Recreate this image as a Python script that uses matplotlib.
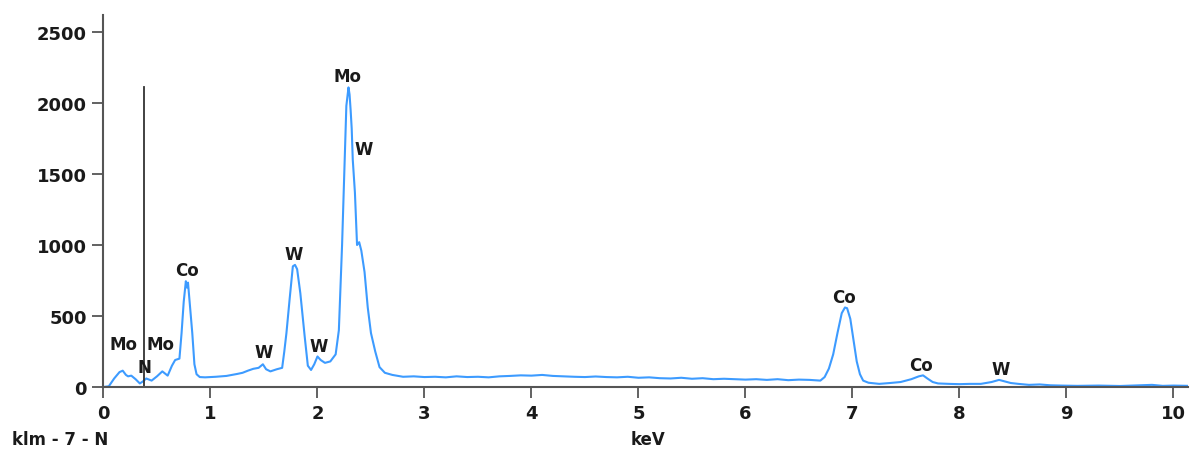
import numpy as np
import matplotlib.pyplot as plt

# spectrum (keV, counts)
kev = [0.00, 0.05, 0.10, 0.15, 0.18, 0.21, 0.23, 0.26, 0.30, 0.34, 0.37, 0.40, 0.45,
       0.50, 0.55, 0.60, 0.64, 0.67, 0.71, 0.73, 0.75, 0.77, 0.78, 0.79, 0.81, 0.83,
       0.85, 0.87, 0.90, 0.95, 1.00, 1.05, 1.10, 1.15, 1.20, 1.25, 1.30, 1.35, 1.40,
       1.45, 1.49, 1.52, 1.56, 1.62, 1.67, 1.69, 1.71, 1.74, 1.77, 1.79, 1.81, 1.84,
       1.88, 1.91, 1.94, 1.97, 2.00, 2.03, 2.07, 2.12, 2.17, 2.20, 2.23, 2.25, 2.27,
       2.29, 2.30, 2.31, 2.32, 2.33, 2.35, 2.37, 2.39, 2.41, 2.44, 2.47, 2.50, 2.54,
       2.58, 2.63, 2.70, 2.80, 2.90, 3.00, 3.10, 3.20, 3.30, 3.40, 3.50, 3.60, 3.70,
       3.80, 3.90, 4.00, 4.10, 4.20, 4.30, 4.40, 4.50, 4.60, 4.70, 4.80, 4.90, 5.00,
       5.10, 5.20, 5.30, 5.40, 5.50, 5.60, 5.70, 5.80, 5.90, 6.00, 6.10, 6.20, 6.30,
       6.40, 6.50, 6.60, 6.70, 6.74, 6.78, 6.82, 6.86, 6.90, 6.93, 6.95, 6.98, 7.01,
       7.04, 7.07, 7.10, 7.15, 7.25, 7.35, 7.45, 7.55, 7.62, 7.66, 7.70, 7.75, 7.80,
       7.90, 8.00, 8.10, 8.20, 8.30, 8.37, 8.42, 8.48, 8.55, 8.65, 8.75, 8.85, 8.95,
       9.10, 9.30, 9.50, 9.70, 9.80, 9.90, 10.00, 10.14]
counts = [0, 5, 60, 105, 115, 85, 75, 80, 55, 25, 40, 60, 45,
          75, 110, 80, 150, 190, 200, 380, 600, 745, 700, 735, 560, 380,
          160, 90, 70, 68, 70, 72, 75, 78, 85, 92, 100, 115, 128,
          135, 160, 125, 110, 125, 135, 250, 380, 620, 850, 860, 830, 660,
          360, 150, 120, 160, 215, 190, 170, 180, 230, 400, 1000, 1500, 1980,
          2110, 2060, 1950, 1820, 1600, 1370, 1000, 1020, 960, 810, 560, 380, 250,
          140, 100, 85, 72, 75, 70, 72, 68, 75, 70, 72, 68, 75,
          78, 82, 80, 85, 78, 75, 72, 70, 74, 70, 68, 72, 65,
          68, 62, 60, 65, 58, 62, 55, 58, 55, 52, 55, 50, 55,
          48, 52, 50, 45, 70, 130, 230, 380, 520, 560, 555, 480, 330,
          180, 90, 45, 30, 22, 28, 35, 55, 75, 82, 60, 35, 25,
          22, 20, 22, 22, 35, 50, 40, 28, 22, 15, 18, 12, 10,
          8, 10, 7, 12, 15, 8, 10, 8]

# element labels
peak_names = ['Mo', 'Mo', 'N', 'Co', 'W', 'W', 'W', 'Mo', 'W', 'Co', 'Co', 'W']
peak_x = [0.19, 0.53, 0.38, 0.78, 1.50, 1.78, 2.01, 2.28, 2.43, 6.92, 7.64, 8.39]
peak_y = [303, 303, 141, 824, 246, 937, 289, 2190, 1676, 634, 155, 127]

marker_kev = 0.38
marker_top = 2110

fig = plt.figure(figsize=(11.92, 4.52), dpi=100)
ax = fig.add_axes([0.0868, 0.1416, 0.9102, 0.823])

ax.plot(kev, counts, color='#3d9bff', lw=1.5)
ax.plot([marker_kev, marker_kev], [0, marker_top], color='#333333', lw=1.3)

for name, x, y in zip(peak_names, peak_x, peak_y):
    ax.text(x, y, name, ha='center', va='center', fontsize=12,
            fontweight='bold', color='#1a1a1a')

ax.set_xlim(0, 10.14)
ax.set_ylim(0, 2620)
ax.set_xticks(range(0, 11))
ax.set_yticks([0, 500, 1000, 1500, 2000, 2500])

for s in ['top', 'right']:
    ax.spines[s].set_visible(False)
for s in ['left', 'bottom']:
    ax.spines[s].set_color('#555555')
    ax.spines[s].set_linewidth(1.5)
ax.tick_params(direction='out', length=8, width=1.3, color='#555555',
               labelsize=13, labelcolor='#1a1a1a', pad=4)
for lab in ax.get_xticklabels() + ax.get_yticklabels():
    lab.set_fontweight('bold')

fig.text(12 / 1192, 1 - 440 / 452, 'klm - 7 - N', fontsize=12, fontweight='bold',
         color='#1a1a1a', ha='left', va='center')
fig.text(648 / 1192, 1 - 440 / 452, 'keV', fontsize=12, fontweight='bold',
         color='#1a1a1a', ha='center', va='center')

fig.savefig('out.png', dpi=100)
